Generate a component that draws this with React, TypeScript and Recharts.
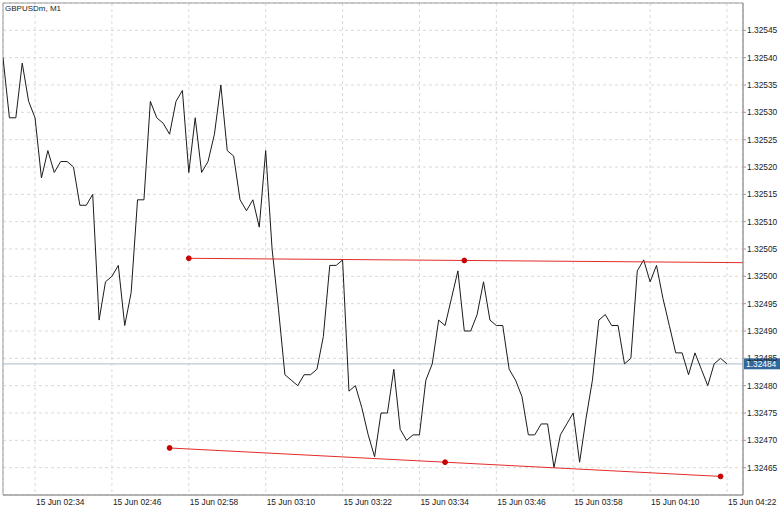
import React from "react";
import {
  ComposedChart,
  Line,
  XAxis,
  YAxis,
  CartesianGrid,
  ReferenceLine,
  ReferenceDot,
  ReferenceArea,
} from "recharts";

// GBPUSDm M1 closes, one per minute starting 15 Jun 02:29
const closes = [
  1.3254, 1.32529, 1.32529, 1.32539, 1.32532, 1.32529, 1.32518, 1.32523, 1.32519, 1.32521,
  1.32521, 1.3252, 1.32513, 1.32513, 1.32515, 1.32492, 1.32499, 1.325, 1.32502, 1.32491,
  1.32497, 1.32514, 1.32514, 1.32532, 1.32529, 1.32528, 1.32526, 1.32532, 1.32534, 1.32519,
  1.32529, 1.32519, 1.32521, 1.32526, 1.32535, 1.32523, 1.32522, 1.32514, 1.32512, 1.32514,
  1.32509, 1.32523, 1.32505, 1.32494, 1.32482, 1.32481, 1.3248, 1.32482, 1.32482, 1.32483,
  1.32489, 1.32502, 1.32502, 1.32503, 1.32479, 1.3248, 1.32476, 1.32471, 1.32467, 1.32475,
  1.32475, 1.32483, 1.32472, 1.3247, 1.32471, 1.32471, 1.32481, 1.32484, 1.32492, 1.32491,
  1.32496, 1.32501, 1.3249, 1.3249, 1.32493, 1.32499, 1.32492, 1.32491, 1.32491, 1.32483,
  1.32481, 1.32478, 1.32471, 1.32471, 1.32473, 1.32473, 1.32465, 1.32471, 1.32473, 1.32475,
  1.32466, 1.32474, 1.32481, 1.32492, 1.32493, 1.32491, 1.32491, 1.32484, 1.32485, 1.32501,
  1.32503, 1.32499, 1.32502, 1.32496, 1.32491, 1.32486, 1.32486, 1.32482, 1.32486, 1.32483,
  1.3248, 1.32484, 1.32485, 1.32484,
];

// x ticks (minutes after 02:29) and their labels
const tickMinutes = [5, 17, 29, 41, 53, 65, 77, 89, 101, 113];
const tickLabels = [
  "15 Jun 02:34",
  "15 Jun 02:46",
  "15 Jun 02:58",
  "15 Jun 03:10",
  "15 Jun 03:22",
  "15 Jun 03:34",
  "15 Jun 03:46",
  "15 Jun 03:58",
  "15 Jun 04:10",
  "15 Jun 04:22",
];

const priceTicks = [
  1.32465, 1.3247, 1.32475, 1.3248, 1.32485, 1.3249, 1.32495, 1.325, 1.32505, 1.3251,
  1.32515, 1.3252, 1.32525, 1.3253, 1.32535, 1.3254, 1.32545,
];

// trend lines drawn on the chart: [minute, price]
const upperTrend = [
  { t: 29, v: 1.325033 },
  { t: 72, v: 1.325029 },
  { t: 115.5, v: 1.325025 },
];
const upperDots = [upperTrend[0], upperTrend[1]];
const lowerTrend = [
  { t: 26, v: 1.324686 },
  { t: 69, v: 1.32466 },
  { t: 112, v: 1.324634 },
];

const lastPrice = 1.32484;
const X_MAX = 115.5;
const Y_MIN = 1.3246;
const Y_MAX = 1.3255;

const data = closes.map((c, i) => ({ t: i, close: c }));

const FONT = "'Liberation Sans', Arial, sans-serif";

const TimeTick = (props: any) => {
  const { x, y, payload } = props;
  const idx = tickMinutes.indexOf(payload.value);
  return (
    <text x={x + 1} y={y + 10} textAnchor="start" fontSize={8.4} fill="#222" fontFamily={FONT}>
      {tickLabels[idx]}
    </text>
  );
};

const PriceTag = (props: any) => {
  const vb = props.viewBox || {};
  const left = vb.x + vb.width + 1;
  return (
    <g>
      <rect x={left} y={vb.y - 5.5} width={36} height={11} fill="#31669c" />
      <text x={left + 2} y={vb.y + 3} fontSize={8.4} fill="#fff" fontFamily={FONT}>
        {lastPrice.toFixed(5)}
      </text>
    </g>
  );
};

export default function App() {
  return (
    <div style={{ position: "absolute", left: 0, top: 0, width: 782, height: 506, background: "#fff" }}>
      <ComposedChart
        width={782}
        height={506}
        data={data}
        margin={{ top: 3, right: 0, left: 3, bottom: 0 }}
      >
        <CartesianGrid stroke="#d9d9d9" strokeDasharray="3 3" />
        <XAxis
          dataKey="t"
          type="number"
          domain={[0, X_MAX]}
          ticks={tickMinutes}
          tick={<TimeTick />}
          tickSize={0}
          tickMargin={0}
          height={11}
          axisLine={{ stroke: "#9c9c9c" }}
          tickLine={false}
          allowDataOverflow
        />
        <YAxis
          orientation="right"
          type="number"
          domain={[Y_MIN, Y_MAX]}
          ticks={priceTicks}
          width={39}
          tickSize={3}
          tickMargin={1}
          tickFormatter={(v: number) => v.toFixed(5)}
          tick={{ fontSize: 8.4, fill: "#222", fontFamily: FONT }}
          axisLine={{ stroke: "#9c9c9c" }}
          tickLine={{ stroke: "#9c9c9c" }}
          allowDataOverflow
        />
        <ReferenceArea x1={0} x2={X_MAX} y1={Y_MIN} y2={Y_MAX} fill="none" stroke="#9c9c9c" />
        <ReferenceLine y={lastPrice} stroke="#b9cad9" strokeWidth={1.2} label={<PriceTag />} />
        <Line
          dataKey="close"
          stroke="#1b1b1b"
          strokeWidth={1}
          dot={false}
          isAnimationActive={false}
        />
        <ReferenceLine
          segment={[
            { x: upperTrend[0].t, y: upperTrend[0].v },
            { x: upperTrend[2].t, y: upperTrend[2].v },
          ]}
          stroke="#e52b2b"
          strokeWidth={1}
        />
        <ReferenceLine
          segment={[
            { x: lowerTrend[0].t, y: lowerTrend[0].v },
            { x: lowerTrend[2].t, y: lowerTrend[2].v },
          ]}
          stroke="#e52b2b"
          strokeWidth={1}
        />
        {upperDots.concat(lowerTrend).map((p, i) => (
          <ReferenceDot key={i} x={p.t} y={p.v} r={2.4} fill="#c80000" stroke="#c80000" />
        ))}
      </ComposedChart>
      <div
        style={{
          position: "absolute",
          left: 5,
          top: 4,
          fontSize: 8,
          lineHeight: "9px",
          color: "#222",
          fontFamily: FONT,
        }}
      >
        GBPUSDm, M1
      </div>
    </div>
  );
}
